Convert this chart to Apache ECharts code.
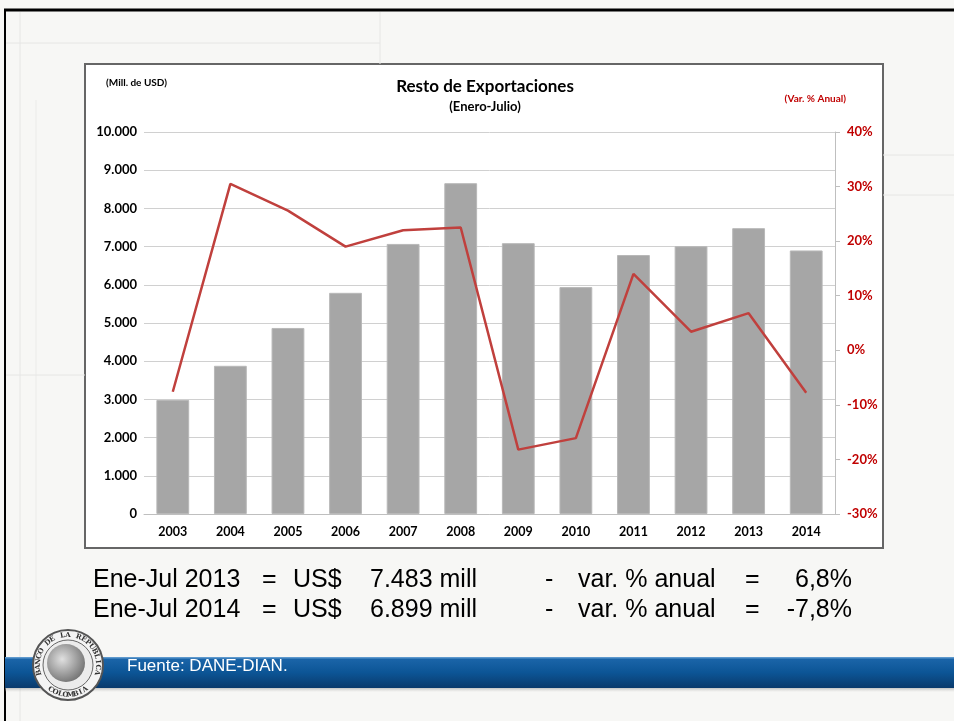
<!DOCTYPE html>
<html>
<head>
<meta charset="utf-8">
<script src="https://cdn.jsdelivr.net/npm/echarts@6/dist/echarts.min.js"></script>
<style>
html,body{margin:0;padding:0;background:#f7f7f5;}
#chart{width:954px;height:721px;}
</style>
</head>
<body>
<div id="chart"></div>
<script>
const years = ['2003','2004','2005','2006','2007','2008','2009','2010','2011','2012','2013','2014'];
const exportValues = [2985, 3880, 4870, 5790, 7070, 8660, 7090, 5940, 6780, 7010, 7483, 6899];
const annualVariation = [-7.6, 30.5, 25.6, 19.0, 22.0, 22.5, -18.2, -16.1, 14.0, 3.4, 6.8, -7.8];
const leftTicks = {min: 0, max: 10000, interval: 1000};
const rightTicks = {min: -30, max: 40, interval: 10};
const summaryRows = [
  ['Ene-Jul 2013', '=', 'US$', '7.483 mill', '-', 'var. % anual', '=', '6,8%'],
  ['Ene-Jul 2014', '=', 'US$', '6.899 mill', '-', 'var. % anual', '=', '-7,8%']
];
const sourceText = 'Fuente: DANE-DIAN.';
const logoTop = 'BANCO DE LA REPUBLICA';
const logoBottom = 'COLOMBIA';

function fmtThousands(v){
  return String(v).replace(/\B(?=(\d{3})+(?!\d))/g, '.');
}

const chart = echarts.init(document.getElementById('chart'), null, {renderer:'canvas'});
const lblFont = 'Lato, "Liberation Sans", sans-serif';
const txtFont = '"Liberation Sans", Arial, sans-serif';

const graphics = [
  // slide background faint lines
  {type:'line', shape:{x1:20,y1:12,x2:20,y2:721}, style:{stroke:'#e6e6e4', lineWidth:1}, z:0},
  {type:'line', shape:{x1:5,y1:43,x2:380,y2:43}, style:{stroke:'#e6e6e4', lineWidth:1}, z:0},
  {type:'line', shape:{x1:380,y1:12,x2:380,y2:64}, style:{stroke:'#e6e6e4', lineWidth:1}, z:0},
  {type:'line', shape:{x1:883,y1:155,x2:954,y2:155}, style:{stroke:'#e6e6e4', lineWidth:1}, z:0},
  {type:'line', shape:{x1:883,y1:195,x2:954,y2:195}, style:{stroke:'#e6e6e4', lineWidth:1}, z:0},
  {type:'line', shape:{x1:36,y1:100,x2:36,y2:600}, style:{stroke:'#ebebe9', lineWidth:1}, z:0},
  {type:'line', shape:{x1:5,y1:375,x2:85,y2:375}, style:{stroke:'#e6e6e4', lineWidth:1}, z:0},
  // black slide border
  {type:'line', shape:{x1:4,y1:10,x2:954,y2:10}, style:{stroke:'#000', lineWidth:3}, z:1},
  {type:'line', shape:{x1:5,y1:10,x2:5,y2:721}, style:{stroke:'#000', lineWidth:2}, z:1},
  // chart box
  {type:'rect', shape:{x:85,y:64,width:798,height:484}, style:{fill:'#ffffff', stroke:'#666666', lineWidth:2}, z:-10},
  // titles
  {type:'text', style:{text:'Resto de Exportaciones', x:485, y:87, align:'center', verticalAlign:'middle', font:'bold 17px '+lblFont, fill:'#000'}, z:5},
  {type:'text', style:{text:'(Enero-Julio)', x:485, y:107, align:'center', verticalAlign:'middle', font:'bold 13px '+lblFont, fill:'#000'}, z:5},
  {type:'text', style:{text:'(Mill. de USD)', x:106, y:83, align:'left', verticalAlign:'middle', font:'bold 10px '+lblFont, fill:'#000'}, z:5},
  {type:'text', style:{text:'(Var. % Anual)', x:846, y:99, align:'right', verticalAlign:'middle', font:'bold 10px '+lblFont, fill:'#c00000'}, z:5},
  // footer band shadow + band
  {type:'rect', shape:{x:5,y:686,width:949,height:6}, style:{fill:new echarts.graphic.LinearGradient(0,0,0,1,[{offset:0,color:'#9a9a9a'},{offset:1,color:'rgba(200,200,200,0)'}])}, z:2},
  {type:'rect', shape:{x:5,y:657,width:949,height:31}, style:{fill:new echarts.graphic.LinearGradient(0,0,0,1,[{offset:0,color:'#6fa6d6'},{offset:0.08,color:'#1a64a8'},{offset:0.5,color:'#0c5596'},{offset:1,color:'#0a3a6c'}])}, z:3},
  {type:'text', style:{text:sourceText, x:127, y:666, align:'left', verticalAlign:'middle', font:'17px '+txtFont, fill:'#ffffff'}, z:6},
  // logo
  {type:'circle', shape:{cx:68,cy:665,r:35}, style:{fill:'#f4f4f4', stroke:'#555', lineWidth:2}, z:4},
  {type:'circle', shape:{cx:68,cy:665,r:25}, style:{fill:'#ececec', stroke:'#666', lineWidth:1}, z:5},
  {type:'circle', shape:{cx:66,cy:663,r:19}, style:{fill:new echarts.graphic.RadialGradient(0.4,0.4,0.7,[{offset:0,color:'#e0e0e0'},{offset:1,color:'#6a6a6a'}])}, z:5}
];

// arc text for logo
function arcText(str, cx, cy, r, startDeg, endDeg, outward){
  const n = str.length;
  for (let i = 0; i < n; i++) {
    const a = (startDeg + (endDeg - startDeg) * (i + 0.5) / n) * Math.PI / 180;
    const x = cx + r * Math.cos(a), y = cy + r * Math.sin(a);
    const rot = outward ? -(a + Math.PI/2) : -(a - Math.PI/2);
    graphics.push({type:'text', x:x, y:y, rotation:rot,
      style:{text:str[i], x:0, y:0, align:'center', verticalAlign:'middle', font:'bold 7px "DejaVu Serif", serif', fill:'#333'}, z:6});
  }
}
arcText(logoTop, 68, 665, 30, 160, 380, true);
arcText(logoBottom, 68, 665, 30, 130, 50, false);

// summary text rows
const colX = [93, 262, 293, 370, 545, 578, 745, 852];
const colAlign = ['left','left','left','left','left','left','left','right'];
const rowY = [580, 610];
summaryRows.forEach((row, r) => {
  row.forEach((t, c) => {
    graphics.push({type:'text', style:{text:t, x:colX[c], y:rowY[r], align:colAlign[c], verticalAlign:'middle', font:'25px '+txtFont, fill:'#000'}, z:5});
  });
});

const option = {
  backgroundColor: 'transparent',
  animation: false,
  grid: {left:144, right:119, top:132, bottom:207, containLabel:false},
  xAxis: {
    type:'category', data: years,
    axisLine:{show:true, lineStyle:{color:'#bfbfbf', width:1}},
    axisTick:{show:false},
    axisLabel:{color:'#000', fontFamily:lblFont, fontWeight:'bold', fontSize:12.5, margin:11}
  },
  yAxis: [
    {
      type:'value', min:leftTicks.min, max:leftTicks.max, interval:leftTicks.interval,
      axisLine:{show:false}, axisTick:{show:false},
      splitLine:{show:true, lineStyle:{color:'#d0d0d0', width:1}},
      axisLabel:{color:'#000', fontFamily:lblFont, fontWeight:'bold', fontSize:13, margin:7, formatter:v=>fmtThousands(v)}
    },
    {
      type:'value', min:rightTicks.min, max:rightTicks.max, interval:rightTicks.interval, position:'right',
      axisLine:{show:true, lineStyle:{color:'#bfbfbf', width:1}},
      axisTick:{show:true, length:5, lineStyle:{color:'#bfbfbf'}},
      splitLine:{show:false},
      axisLabel:{color:'#c00000', fontFamily:lblFont, fontWeight:'bold', fontSize:13, margin:12, formatter:v=>v+'%'}
    }
  ],
  series: [
    {
      type:'bar', data: exportValues, yAxisIndex:0, barWidth:'57%',
      itemStyle:{color:'#a6a6a6', borderColor:'#b8b8b8', borderWidth:1}, z:2
    },
    {
      type:'line', data: annualVariation, yAxisIndex:1, symbol:'none',
      lineStyle:{color:'#c0403d', width:2.5}, z:3
    }
  ],
  graphic: graphics
};
chart.setOption(option);
</script>
</body>
</html>
